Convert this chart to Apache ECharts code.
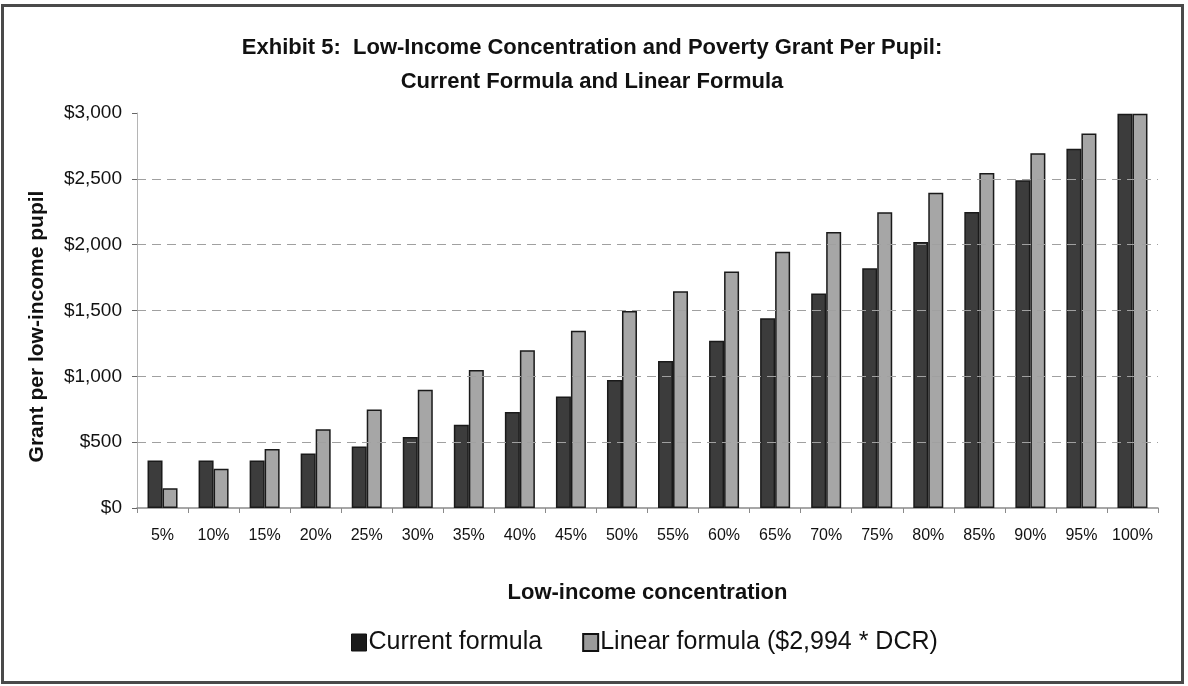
<!DOCTYPE html>
<html>
<head>
<meta charset="utf-8">
<script src="https://cdn.jsdelivr.net/npm/echarts@6/dist/echarts.min.js"></script>
<style>
  html, body { margin: 0; padding: 0; background: #fff; }
  #frame { position: absolute; left: 1px; top: 4px; width: 1183px; height: 680px; border: 3px solid #4a4a4a; box-sizing: border-box; }
  #chart { position: absolute; left: 0; top: 0; width: 1188px; height: 686px; }
</style>
</head>
<body>
<div id="chart"></div>
<div id="frame"></div>
<script>
// Low-income concentration (x categories)
const concentration = ['5%', '10%', '15%', '20%', '25%', '30%', '35%', '40%', '45%', '50%',
  '55%', '60%', '65%', '70%', '75%', '80%', '85%', '90%', '95%', '100%'];

// Poverty grant per low-income pupil, current formula ($)
const currentFormula = [360, 360, 360, 413, 468, 539, 632, 729, 847, 973,
  1117, 1271, 1441, 1630, 1820, 2021, 2248, 2489, 2729, 2994];

// Poverty grant per low-income pupil, linear formula ($2,994 * DCR)
const linearFormula = [150, 299, 449, 599, 749, 898, 1048, 1198, 1347, 1497,
  1647, 1796, 1946, 2096, 2246, 2395, 2545, 2695, 2844, 2994];

// Dashed reference lines across the plot
const gridValues = [500, 1000, 1500, 2000, 2500];

const FONT = '"Liberation Sans", Arial, sans-serif';

const chart = echarts.init(document.getElementById('chart'), null, { renderer: 'canvas' });

chart.setOption({
  animation: false,
  backgroundColor: '#ffffff',
  title: {
    text: 'Exhibit 5:  Low-Income Concentration and Poverty Grant Per Pupil:\nCurrent Formula and Linear Formula',
    left: 587,
    textAlign: 'center',
    top: 26,
    textStyle: { fontFamily: FONT, fontSize: 22, fontWeight: 'bold', color: '#111', lineHeight: 34 }
  },
  legend: {
    left: 346,
    top: 625,
    itemWidth: 15,
    itemHeight: 17,
    itemGap: 40,
    icon: 'rect',
    textStyle: { fontFamily: FONT, fontSize: 25, color: '#111', padding: [0, 0, 0, -3] },
    data: [
      { name: 'Current formula', itemStyle: { color: '#1a1a1a', borderColor: '#111', borderWidth: 1 } },
      { name: 'Linear formula ($2,994 * DCR)', itemStyle: { color: '#9a9a9a', borderColor: '#111', borderWidth: 2 } }
    ]
  },
  grid: { left: 137, right: 30, top: 113, bottom: 178, containLabel: false },
  xAxis: {
    type: 'category',
    data: concentration,
    name: 'Low-income concentration',
    nameLocation: 'middle',
    nameGap: 74,
    nameTextStyle: { fontFamily: FONT, fontSize: 22, fontWeight: 'bold', color: '#111' },
    axisLine: { lineStyle: { color: '#8a8a8a', width: 1.5 } },
    axisTick: { show: true, alignWithLabel: false, interval: 0, length: 5, lineStyle: { color: '#8a8a8a' } },
    axisLabel: { fontFamily: FONT, fontSize: 16, color: '#111', margin: 20, interval: 0 },
    splitLine: { show: false }
  },
  yAxis: {
    type: 'value',
    min: 0,
    max: 3000,
    interval: 500,
    name: 'Grant per low-income pupil',
    nameLocation: 'middle',
    nameGap: 89,
    nameRotate: 90,
    nameTextStyle: { fontFamily: FONT, fontSize: 21, fontWeight: 'bold', color: '#111', padding: [0, 32, 0, 0] },
    axisLine: { show: true, lineStyle: { color: '#b5b5b5', width: 1 } },
    axisTick: { show: true, length: 5, lineStyle: { color: '#666' } },
    axisLabel: {
      fontFamily: FONT, fontSize: 19, color: '#111', margin: 15,
      formatter: v => '$' + v.toLocaleString('en-US')
    },
    splitLine: { show: false }
  },
  series: [
    {
      name: 'Current formula',
      type: 'bar',
      data: currentFormula,
      barWidth: 15,
      barGap: '0%',
      itemStyle: { color: '#3c3c3c', borderColor: '#1a1a1a', borderWidth: 1.5 },
      markLine: {
        silent: true,
        symbol: 'none',
        label: { show: false },
        lineStyle: { type: [9, 6], color: '#a0a0a0', width: 1.2 },
        data: gridValues.map(v => ({ yAxis: v }))
      },
      z: 3
    },
    {
      name: 'Linear formula ($2,994 * DCR)',
      type: 'bar',
      data: linearFormula,
      barWidth: 15,
      itemStyle: { color: '#a6a6a6', borderColor: '#1a1a1a', borderWidth: 1.5 },
      z: 3
    }
  ]
});
</script>
</body>
</html>
